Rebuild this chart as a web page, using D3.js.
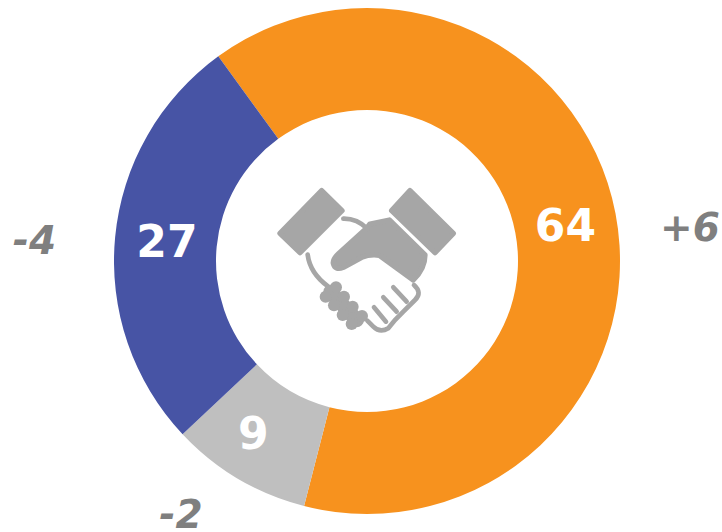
<!DOCTYPE html>
<html>
<head>
<meta charset="utf-8">
<script src="https://cdn.jsdelivr.net/npm/d3@7"></script>
<style>
html, body { margin: 0; padding: 0; background: #fff; }
svg { display: block; }
text { font-family: "DejaVu Sans", sans-serif; font-weight: bold; }
</style>
</head>
<body>
<div id="chart"></div>
<script>
// Donut data
const categories = ['Positive', 'Neutral', 'Negative'];
const values = [64, 9, 27];
const changes = ['+6', '-2', '-4'];
const colors = ['#f7921e', '#bfbfbf', '#4754a5'];

const width = 722, height = 532;
const cx = 367, cy = 261;
const outerR = 253, innerR = 151;

const svg = d3.select("#chart")
    .append("svg")
    .attr("width", width)
    .attr("height", height);

const g = svg.append("g")
    .attr("transform", `translate(${cx},${cy})`);

const startAngle = -36 * Math.PI / 180;
const pie = d3.pie()
    .value(d => d)
    .sort(null)
    .startAngle(startAngle)
    .endAngle(startAngle + 2 * Math.PI);

const arc = d3.arc().innerRadius(innerR).outerRadius(outerR);
const arcs = pie(values);

g.selectAll(".slice")
    .data(arcs)
    .enter().append("path")
    .attr("class", "slice")
    .attr("d", arc)
    .attr("fill", (d, i) => colors[i]);

// Value labels sit on the slice centroid, nudged by hand like the original
const labelNudge = [[0, 18], [-11, 14], [1, 15]];
g.selectAll(".value")
    .data(arcs)
    .enter().append("text")
    .attr("class", "value")
    .attr("x", (d, i) => arc.centroid(d)[0] + labelNudge[i][0])
    .attr("y", (d, i) => arc.centroid(d)[1] + labelNudge[i][1])
    .attr("text-anchor", "middle")
    .attr("fill", "#fff")
    .style("font-size", "44px")
    .text(d => d.data);

// Change labels outside the ring
const changePos = [[690, 241], [181, 528], [34.5, 254]];
svg.selectAll(".change")
    .data(changes)
    .enter().append("text")
    .attr("class", "change")
    .attr("x", (d, i) => changePos[i][0])
    .attr("y", (d, i) => changePos[i][1])
    .attr("text-anchor", "middle")
    .attr("fill", "#7f7f7f")
    .style("font-size", "39px")
    .style("font-style", "italic")
    .text(d => d);

// Handshake icon, drawn in 3x units then scaled down
const icon = svg.append("g")
    .attr("transform", "translate(260,170) scale(0.3333)")
    .attr("fill", "#a6a6a6")
    .attr("stroke", "#a6a6a6");

const solid = [
    "M185,62 L246,122 L120,248 L60,190 Z",
    "M450,62 L580,190 L525,248 L395,122 Z",
    "M330,162 L388,150 L495,255 Q495,295 460,330 L358,256 Q330,252 305,262 L250,292 Q225,302 220,280 Q218,268 235,252 L320,175 Z"
];
icon.selectAll(".solid")
    .data(solid)
    .enter().append("path")
    .attr("class", "solid")
    .attr("d", d => d)
    .attr("stroke-width", 16)
    .attr("stroke-linejoin", "round");

const lines = [
    "M250,146 Q290,145 322,176",
    "M143,254 Q150,310 205,350",
    "M462,345 Q488,368 465,390 L430,425 L405,450 L385,475 Q360,490 340,470 L322,452",
    "M400,352 L440,395",
    "M370,382 L410,425",
    "M342,412 L378,455"
];
icon.selectAll(".outline")
    .data(lines)
    .enter().append("path")
    .attr("class", "outline")
    .attr("d", d => d)
    .attr("fill", "none")
    .attr("stroke-width", 14)
    .attr("stroke-linecap", "round");

// Fist: solid band with bumps along both edges
icon.append("path")
    .attr("d", "M212,366 L290,450")
    .attr("fill", "none")
    .attr("stroke-width", 44)
    .attr("stroke-linecap", "round");

const knuckles = [
    [228, 352], [252, 380], [278, 410], [306, 438],
    [197, 380], [222, 406], [248, 435], [275, 462]
];
icon.selectAll(".knuckle")
    .data(knuckles)
    .enter().append("circle")
    .attr("class", "knuckle")
    .attr("cx", d => d[0])
    .attr("cy", d => d[1])
    .attr("r", 18)
    .attr("stroke", "none");
</script>
</body>
</html>
